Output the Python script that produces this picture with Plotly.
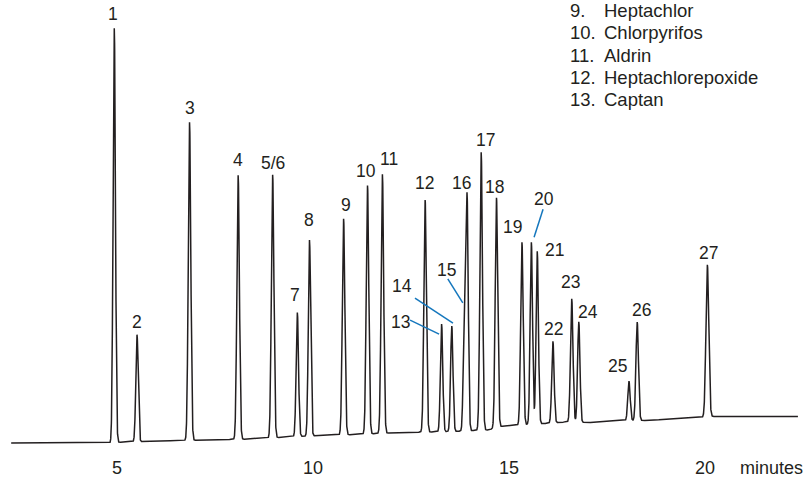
import numpy as np
import plotly.graph_objects as go

# ---------------- data ----------------
peak_labels = ["1", "2", "3", "4", "5/6", "7", "8", "9", "10", "11", "12", "13", "14",
               "15", "16", "17", "18", "19", "20", "21", "22", "23", "24", "25", "26", "27"]
retention_min = [4.93, 5.51, 6.85, 8.09, 8.97, 9.60, 9.91, 10.78, 11.39, 11.77, 12.86, 13.28, 13.54,
                 13.86, 13.93, 14.29, 14.68, 15.33, 15.57, 15.72, 16.12, 16.60, 16.78, 18.06, 18.27, 20.06]
peak_height = [414.5, 107, 318, 264, 263, 124, 196, 216, 248.5, 259, 232, 107.7, 105.4,
               115, 233, 278, 230, 182.5, 182, 172.7, 81.6, 123.3, 100.5, 39.4, 98.5, 152]
peak_sigma = [0.030, 0.030, 0.032, 0.032, 0.032, 0.030, 0.030, 0.032, 0.032, 0.032, 0.032, 0.030, 0.030,
              0.028, 0.030, 0.032, 0.032, 0.032, 0.030, 0.030, 0.030, 0.032, 0.030, 0.030, 0.032, 0.036]

baseline_time = [2.30, 4.87, 5.13, 6.22, 7.50, 8.52, 9.29, 10.31, 11.07, 12.09, 13.37, 14.01,
                 14.46, 14.85, 15.92, 16.43, 17.07, 17.96, 18.47, 19.87, 20.18, 22.37]
baseline_level = [9, 9, 10, 11, 12.3, 13, 15, 16.7, 17.5, 19.3, 20.3, 21.3,
                  22, 26, 28.5, 30, 29.5, 31.5, 31.5, 34.5, 35.5, 35.5]

tick_values = [5, 10, 15, 20]
tick_text = ["5", "10", "15", "20"]
axis_unit = "minutes"

legend_numbers = ["9.", "10.", "11.", "12.", "13."]
legend_names = ["Heptachlor", "Chlorpyrifos", "Aldrin", "Heptachlorepoxide", "Captan"]

# ---------------- layout / style settings ----------------
INK = "#231f20"
BLUE = "#1577bd"
FONT = "Liberation Sans, Arial, Helvetica, sans-serif"
W, H = 806, 479
MB = 27                     # bottom margin (px)
PLOT_H = H - MB
PX_PER_MIN = 39.2
X0 = 2.015
XRANGE = [X0, X0 + W / PX_PER_MIN]

# label offsets (pixels) relative to each peak apex: (dx, dy up)
label_offset = {
    "1": (-1, 14), "2": (0, 12.5), "3": (0, 14), "4": (0, 15), "5/6": (0, 12), "7": (-2, 17),
    "8": (0, 20), "9": (2, 14), "10": (-2, 14), "11": (7, 15), "12": (-1, 17), "16": (-6, 15),
    "17": (4, 12), "18": (-2, 11), "19": (-9, 15), "21": (17, 1), "22": (1, 12), "23": (-1, 17),
    "24": (9, 10), "25": (-11, 15), "26": (4, 12), "27": (1, 12),
    "13": (-41.5, 2), "14": (-50, 40), "15": (-17.5, 38), "20": (13, 43),
}
# shoulder peak 15 is anchored at its visible apex (pixels above its own Gaussian top)
anchor_extra = {"15": 8}
# leader lines (pixels relative to apex): (x0, y0, x1, y1), y up
leader = {
    "13": (-31.5, 4, -2.5, -10),
    "14": (-36.8, 28, 1.2, 3),
    "15": (-16.5, 29, -1.5, 5),
    "20": (11.7, 33, 2.7, 5),
}

# ---------------- build trace ----------------
t = np.arange(baseline_time[0], baseline_time[-1] + 1e-9, 0.002)
signal = np.interp(t, baseline_time, baseline_level)
for rt, h, s in zip(retention_min, peak_height, peak_sigma):
    signal = signal + h * np.exp(-0.5 * ((t - rt) / s) ** 2)

fig = go.Figure()
fig.add_trace(go.Scatter(x=t, y=signal, mode="lines",
                         line=dict(color=INK, width=1.5), hoverinfo="skip", showlegend=False))

annotations = []
shapes = []
for lab, rt, h in zip(peak_labels, retention_min, peak_height):
    top = float(np.interp(rt, baseline_time, baseline_level) + h) + anchor_extra.get(lab, 0)
    dx, dy = label_offset[lab]
    annotations.append(dict(x=rt, y=top, xref="x", yref="y", text=lab, showarrow=False,
                            xshift=dx, yshift=dy, xanchor="center", yanchor="middle",
                            font=dict(family=FONT, size=17.5, color=INK)))
    if lab in leader:
        x0, y0, x1, y1 = leader[lab]
        shapes.append(dict(type="line", xref="x", yref="y", xsizemode="pixel", ysizemode="pixel",
                           xanchor=rt, yanchor=top, x0=x0, y0=y0, x1=x1, y1=y1,
                           line=dict(color=BLUE, width=1.5)))

row_y = [10, 32.5, 55, 77, 99.5]
for num, name, py in zip(legend_numbers, legend_names, row_y):
    yp = 1 - py / PLOT_H
    annotations.append(dict(x=568 / W, y=yp, xref="paper", yref="paper", text=num, showarrow=False,
                            xanchor="left", yanchor="middle",
                            font=dict(family=FONT, size=18.5, color=INK)))
    annotations.append(dict(x=602 / W, y=yp, xref="paper", yref="paper", text=name, showarrow=False,
                            xanchor="left", yanchor="middle",
                            font=dict(family=FONT, size=18.5, color=INK)))

annotations.append(dict(x=771 / W, y=(PLOT_H - 467.5) / PLOT_H, xref="paper", yref="paper",
                        text=axis_unit, showarrow=False, xanchor="center", yanchor="middle",
                        font=dict(family=FONT, size=18, color=INK)))

fig.update_layout(
    width=W, height=H,
    margin=dict(l=0, r=0, t=0, b=MB, pad=0),
    paper_bgcolor="white", plot_bgcolor="white",
    xaxis=dict(range=XRANGE, showgrid=False, zeroline=False, showline=False, ticks="",
               tickvals=tick_values, ticktext=tick_text, ticklabelstandoff=3,
               tickfont=dict(family=FONT, size=18, color=INK)),
    yaxis=dict(range=[0, PLOT_H], showgrid=False, zeroline=False, showline=False,
               showticklabels=False, ticks=""),
    annotations=annotations,
    shapes=shapes,
)

fig.write_html("out.html")
